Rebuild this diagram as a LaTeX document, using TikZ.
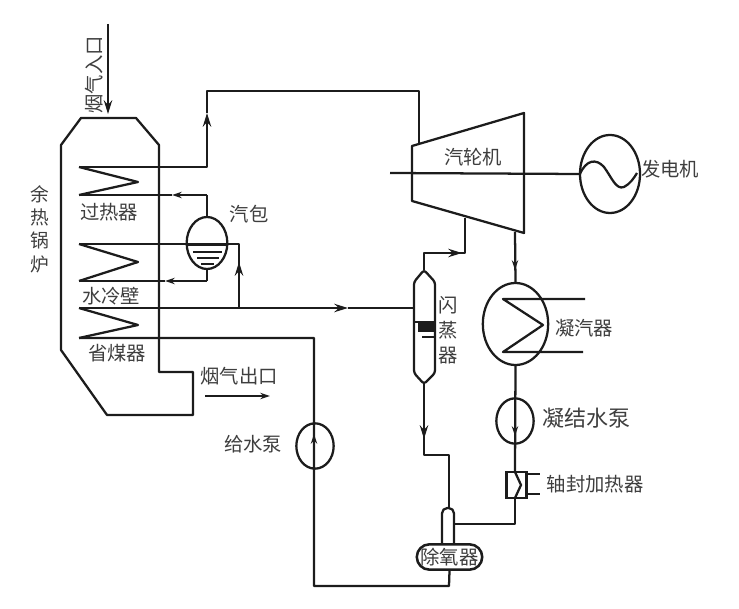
\documentclass[tikz,border=0pt]{standalone}
\usepackage{xcolor}
\usepackage{fontspec}
\setmainfont{Noto Sans CJK SC}
\usetikzlibrary{shapes.geometric,shapes.misc,arrows.meta,positioning}
\definecolor{hrLine}{HTML}{1C1C1C}
\definecolor{hrText}{HTML}{3E3E3E}
\tikzset{
  pipe/.style={draw=hrLine,line width=1.7pt,line join=round},
  flow/.style={pipe,-{Stealth[length=3.6mm,width=2.2mm]}},
  flowsm/.style={pipe,-{Stealth[length=2.6mm,width=1.7mm]}},
  vessel/.style={ellipse,draw=hrLine,line width=1.7pt,inner sep=0pt,outer sep=0pt},
  lbl/.style={font=\fontsize{14.5}{18.8}\selectfont,text=hrText,inner sep=0pt,align=center},
  lblbig/.style={lbl,font=\fontsize{16.5}{20}\selectfont},
  lbltight/.style={lbl,font=\fontsize{14}{17.5}\selectfont},
}
\begin{document}
\begin{tikzpicture}[x=0.75pt,y=-0.75pt]
  \useasboundingbox (0,0) rectangle (739,609);
  % boiler casing
  \coordinate (inlet) at (108,24);
  \coordinate (inTip) at (108,114);
  \draw[pipe] (81,118) -- (136,118) -- (159,145) -- (159,372) -- (193,372) -- (193,415) -- (107,415) -- (61,350) -- (61,145) -- cycle;
  \draw[flow] (inlet) -- (inTip);
  \node[lbl,rotate=90] (gasin) at (94,75) {烟气入口};
  \node[lbltight] (boiler) at (40,229) {余\\热\\锅\\炉};

  % coils
  \foreach \n/\yt/\ym/\yb in {sh/167/182/195,ww/244/262/281,ec/308/325/338}{
    \coordinate (\n t) at (79,\yt);
    \coordinate (\n m) at (138,\ym);
    \coordinate (\n b) at (79,\yb);
    \draw[pipe] (\n t) -- (\n m) -- (\n b);
  }
  \node[lbl] (shlbl) at (109,212) {过热器};
  \node[lbl] (wwlbl) at (111,296) {水冷壁};
  \node[lbl] (eclbl) at (117,353) {省煤器};

  % drum
  \node[vessel,minimum width=30.5pt,minimum height=39pt] (drum) at (207,243) {};
  \node[lbl] (drumlbl) at (249,214) {汽包};
  \draw[pipe] (188,245) -- (226,245);
  \draw[pipe] (193,252) -- (222,252);
  \draw[pipe] (197,258) -- (219,258);
  \draw[pipe] (201,264) -- (214,264);

  % turbine and generator
  \coordinate (tA) at (412,146);
  \coordinate (tB) at (524,113);
  \coordinate (tC) at (524,233);
  \coordinate (tD) at (412,201);
  \draw[pipe] (tA) -- (tB) -- (tC) -- (tD) -- cycle;
  \node[lbl] (turblbl) at (473,157) {汽轮机};
  \node[vessel,minimum width=45pt,minimum height=58.5pt] (gen) at (610,174) {};
  \node[lbl] (genlbl) at (670,169) {发电机};
  \coordinate (shaft) at (390,173);
  \draw[pipe] (shaft) -- (gen.west);
  \draw[pipe] (gen.west) .. controls (586,160) and (596,158) .. (604,167) .. controls (612,178) and (616,190) .. (624,187) .. controls (630,184) and (634,178) .. (637,173);

  % flash tank
  \coordinate (fTop) at (424,270);
  \coordinate (fBot) at (424,384);
  \draw[pipe,rounded corners=2pt] (fTop) -- (435,282) -- (435,373) -- (fBot) -- (414,373) -- (414,282) -- cycle;
  \fill[hrLine] (418,322) rectangle (435,332);
  \draw[pipe] (414,322) -- (435,322);
  \draw[pipe] (422,337) -- (435,337);
  \node[lbl] (flashlbl) at (448,330) {闪\\蒸\\器};

  % condenser and pumps
  \node[vessel,minimum width=49pt,minimum height=61.5pt] (cond) at (515.5,324) {};
  \node[lbl] (condlbl) at (584,328) {凝汽器};
  \draw[pipe] (585,299) -- (503,299) -- (543,325) -- (503,352) -- (583,352);
  \node[vessel,minimum width=28pt,minimum height=34pt] (cpump) at (515,421) {};
  \node[lblbig] (cpumplbl) at (586,418) {凝结水泵};
  \node[vessel,minimum width=28pt,minimum height=34pt] (fpump) at (315,446) {};
  \node[lbl] (fpumplbl) at (253,444) {给水泵};

  % gland heater
  \node[draw=hrLine,line width=2.2pt,inner sep=0pt,minimum width=15.5pt,minimum height=19.5pt] (seal) at (516.5,485) {};
  \coordinate (sealT) at (515,472);
  \coordinate (sealB) at (515,498);
  \draw[pipe] (sealT) -- (521,485) -- (sealB);
  \draw[pipe] (527,474) -- (540,474);
  \draw[pipe] (527,494) -- (540,494);
  \node[lbl] (seallbl) at (595,484) {轴封加热器};

  % deaerator
  \draw[pipe,rounded corners=4pt] (442,544) -- (442,508) -- (454,508) -- (454,544);
  \coordinate (dHead) at (449,508);
  \node[rounded rectangle,draw=hrLine,line width=1.9pt,fill=white,inner sep=0pt,minimum width=48.75pt,minimum height=19pt,lbl] (dea) at (449.5,557) {除氧器};

  % steam and water lines
  \coordinate (a1) at (207,113);
  \draw[flow] (sht) -- (207,167) -- (a1);
  \draw[pipe] (a1) -- (207,91) -- (419,91) -- (419,145);
  \draw[flowsm] (207,195) -- (172,195);
  \draw[pipe] (172,195) -- (shb);
  \draw[pipe] (207,195) -- (drum.north);
  \draw[pipe] (wwt) -- (239,244) -- (239,308);
  \coordinate (a2) at (239,262);
  \draw[flow] (239,308) -- (a2);
  \draw[flowsm] (207,281) -- (165,281);
  \draw[pipe] (165,281) -- (wwb);
  \draw[pipe] (207,281) -- (drum.south);
  \draw[flow] (ect) -- (348,308);
  \draw[pipe] (348,308) -- (414,308);
  \draw[pipe] (ecb) -- (314,338) -- (314,586) -- (449,586) -- (dea.south);
  \draw[flowsm] (314,452) -- (314,434);
  \draw[pipe] (fTop) -- (424,253) -- (465,253) -- (465,218);
  \draw[flow] (424,253) -- (462,253);
  \draw[pipe] (fBot) -- (424,455) -- (449,455) -- (dHead);
  \draw[flow] (fBot) -- (424,439);
  \draw[pipe] (515,232) -- (cond.north);
  \draw[flowsm] (515,232) -- (515,270);
  \draw[pipe] (cond.south) -- (sealT);
  \draw[flowsm] (515,415) -- (515,436);
  \draw[pipe] (sealB) -- (515,524) -- (454,524);

  % gas outlet
  \node[lbl] (gasout) at (239,376) {烟气出口};
  \coordinate (o1) at (205,396);
  \coordinate (o2) at (270,396);
  \draw[flowsm] (o1) -- (o2);
\end{tikzpicture}
\end{document}
